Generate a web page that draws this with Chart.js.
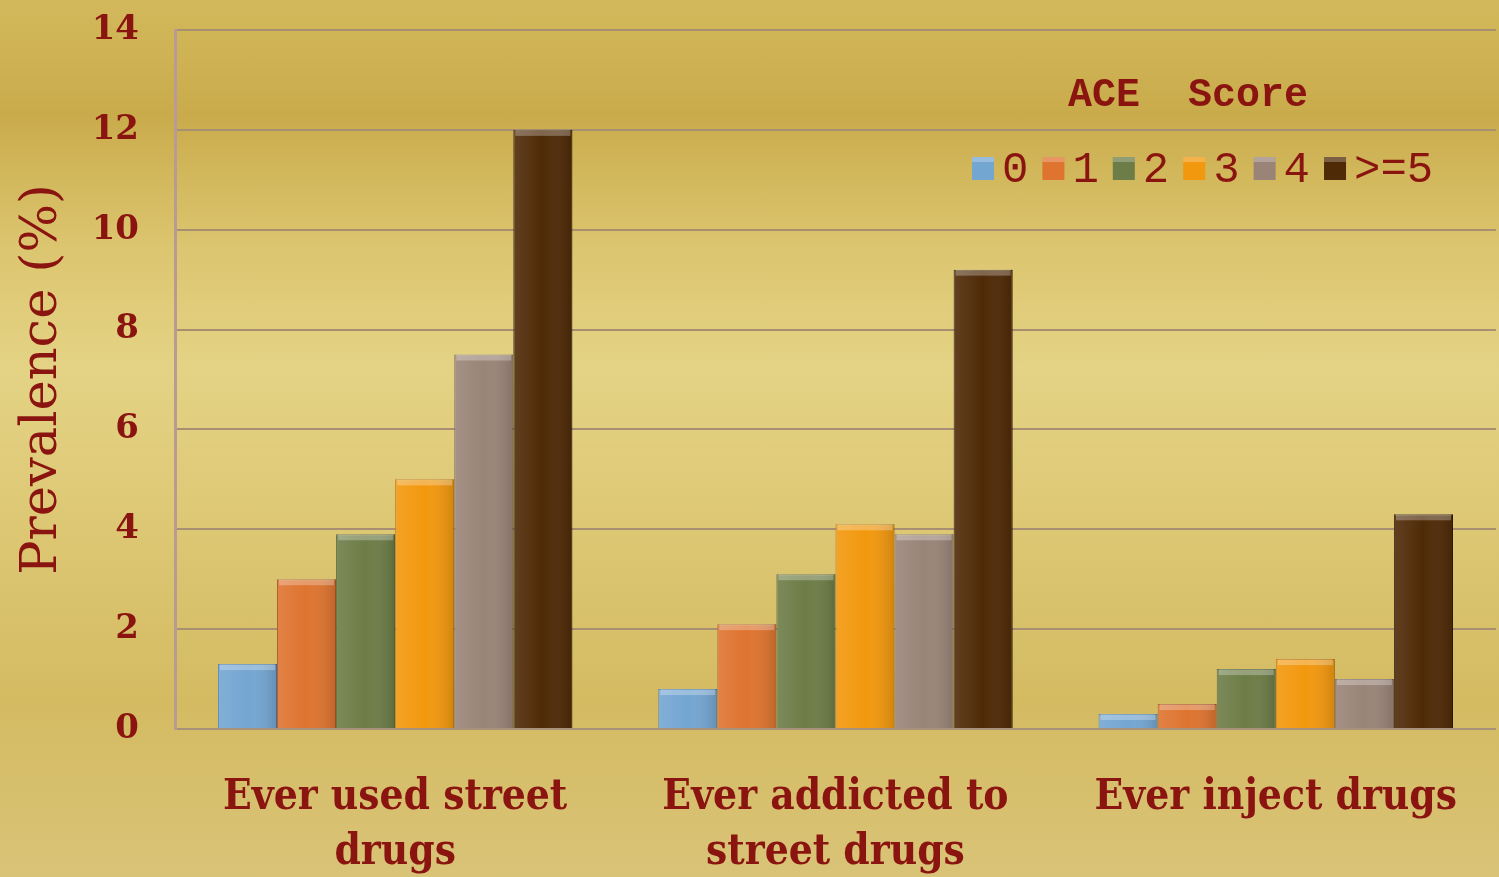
<!DOCTYPE html>
<html>
<head>
<meta charset="utf-8">
<script src="https://cdn.jsdelivr.net/npm/chart.js@4.4.1/dist/chart.umd.min.js"></script>
<style>
  html, body { margin: 0; padding: 0; }
  body {
    width: 1499px; height: 877px; overflow: hidden;
    background: linear-gradient(180deg, #d3b95c 0%, #c9ab4b 13%, #dcc56f 28%, #e4d385 42%, #dcc672 62%, #d4bb62 80%, #d9c377 100%);
  }
  #wrap { position: relative; width: 1499px; height: 877px; }
</style>
</head>
<body>
<div id="wrap"><canvas id="drugChart" width="1499" height="877"></canvas></div>
<script>
const categories = [['Ever used street', 'drugs'], ['Ever addicted to', 'street drugs'], ['Ever inject drugs']];
const scoreLabels = ['0', '1', '2', '3', '4', '>=5'];
const score0 = [1.3, 0.8, 0.3];
const score1 = [3.0, 2.1, 0.5];
const score2 = [3.9, 3.1, 1.2];
const score3 = [5.0, 4.1, 1.4];
const score4 = [7.5, 3.9, 1.0];
const score5 = [12.0, 9.2, 4.3];
const yTicks = [0, 2, 4, 6, 8, 10, 12, 14];

const seriesValues = [score0, score1, score2, score3, score4, score5];
const barColors = ['#74a6d2', '#de7430', '#6d7d47', '#f2980e', '#9a8478', '#4f2a07'];
const edgeColors = ['#4f7ea8', '#a9501c', '#4c5a30', '#b96f06', '#76625a', '#2f1803'];
const textRed = '#8a1410';
const serif = '"DejaVu Serif Condensed", "DejaVu Serif", serif';

// soft bevel on every bar: light top strip, darker right edge
const barShade = {
    id: 'barShade',
    afterDatasetsDraw(chart) {
        const ctx = chart.ctx;
        chart.data.datasets.forEach((ds, i) => {
            chart.getDatasetMeta(i).data.forEach(bar => {
                const left = bar.x - bar.width / 2;
                const top = bar.y;
                const h = bar.base - bar.y;
                const g = ctx.createLinearGradient(left, 0, left + bar.width, 0);
                g.addColorStop(0, 'rgba(255,255,255,0.10)');
                g.addColorStop(0.5, 'rgba(255,255,255,0)');
                g.addColorStop(1, 'rgba(0,0,0,0.14)');
                ctx.save();
                ctx.fillStyle = g;
                ctx.fillRect(left, top, bar.width, h);
                ctx.fillStyle = 'rgba(255,255,255,0.28)';
                ctx.fillRect(left + 2, top, bar.width - 4, Math.min(6, h));
                ctx.restore();
            });
        });
    }
};

// "ACE Score" legend placed inside the plot area
const aceLegend = {
    id: 'aceLegend',
    afterDraw(chart) {
        const ctx = chart.ctx;
        ctx.save();
        ctx.fillStyle = textRed;
        ctx.font = 'bold 40px "Liberation Mono"';
        ctx.textAlign = 'center';
        ctx.textBaseline = 'middle';
        ctx.fillText('ACE  Score', 1188, 96);

        ctx.font = '44px "Liberation Mono"';
        ctx.textAlign = 'left';
        let x = 972;
        const y = 168;
        chart.data.datasets.forEach(ds => {
            ctx.fillStyle = ds.backgroundColor;
            ctx.fillRect(x, y - 11, 22, 23);
            ctx.fillStyle = 'rgba(255,255,255,0.25)';
            ctx.fillRect(x, y - 11, 22, 5);
            ctx.fillStyle = textRed;
            ctx.fillText(ds.label, x + 30, y + 2);
            x += ctx.measureText(ds.label).width + 44;
        });
        ctx.restore();
    }
};

new Chart(document.getElementById('drugChart'), {
    type: 'bar',
    data: {
        labels: categories,
        datasets: scoreLabels.map((label, i) => ({
            label: label,
            data: seriesValues[i],
            backgroundColor: barColors[i],
            borderColor: edgeColors[i],
            borderWidth: 1,
            categoryPercentage: 0.805,
            barPercentage: 1.0
        }))
    },
    options: {
        responsive: false,
        animation: false,
        layout: { padding: { top: 30, right: 0, bottom: 0, left: 0 } },
        plugins: {
            legend: { display: false },
            tooltip: { enabled: false }
        },
        scales: {
            x: {
                border: { display: true, color: '#a8907a', width: 2 },
                grid: { display: false, drawTicks: false },
                ticks: {
                    color: textRed,
                    padding: 42,
                    maxRotation: 0,
                    autoSkip: false,
                    font: { family: serif, size: 42, weight: 'bold', lineHeight: 1.3 }
                },
                afterFit: scale => { scale.height = 148; }
            },
            y: {
                min: 0,
                max: 14,
                afterBuildTicks: scale => { scale.ticks = yTicks.map(v => ({ value: v })); },
                border: { display: true, color: '#b89c94', width: 3 },
                grid: { color: '#a88f72', lineWidth: 2, drawTicks: false },
                ticks: {
                    color: textRed,
                    padding: 36,
                    font: { family: 'DejaVu Serif', size: 34, weight: 'bold' }
                },
                title: {
                    display: true,
                    text: 'Prevalence (%)',
                    color: textRed,
                    padding: { top: 12, bottom: 0 },
                    font: { family: 'DejaVu Serif', size: 51 }
                },
                afterFit: scale => {
                    scale.width = 175;
                    // tick padding is horizontal here; keep it out of the vertical overflow
                    scale.paddingTop = 20;
                    scale.paddingBottom = 20;
                }
            }
        }
    },
    plugins: [barShade, aceLegend]
});
</script>
</body>
</html>
